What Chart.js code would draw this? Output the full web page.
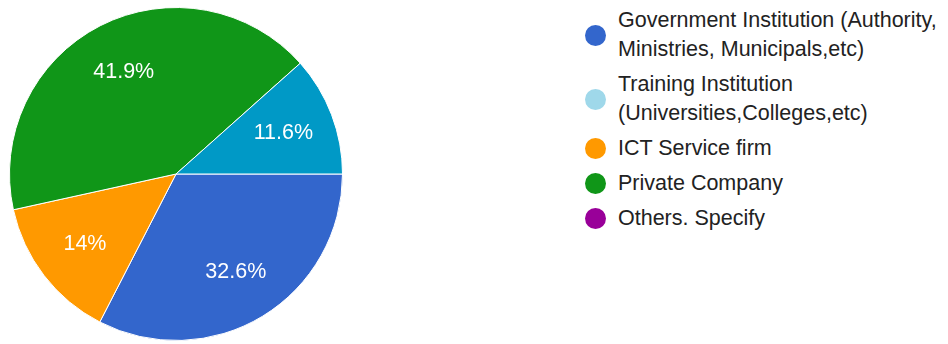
<!DOCTYPE html>
<html>
<head>
<meta charset="utf-8">
<script src="https://cdn.jsdelivr.net/npm/chart.js@4"></script>
<style>
  html, body { margin: 0; padding: 0; background: #fff; }
  #wrap { position: relative; width: 948px; height: 344px; overflow: hidden; }
  #pieBox { position: absolute; left: 0; top: 0; width: 352px; height: 344px; }
  #legend {
    position: absolute; left: 585px; top: 6px; width: 363px;
    font-family: "Liberation Sans", Arial, sans-serif; font-size: 21.5px;
    line-height: 29px; color: #222;
  }
  .item { display: flex; align-items: center; margin-bottom: 6px; }
  .dot { flex: none; width: 21px; height: 21px; border-radius: 50%; margin-right: 12px; }
  .txt { flex: 1; }
</style>
</head>
<body>
<div id="wrap">
  <div id="pieBox"><canvas id="pie"></canvas></div>
  <div id="legend"></div>
</div>
<script>
// Responses per organisation type (percent)
const categories = [
  'Government Institution (Authority, Ministries, Municipals,etc)',
  'Training Institution (Universities,Colleges,etc)',
  'ICT Service firm',
  'Private Company',
  'Others. Specify'
];
const shares = [32.6, 11.6, 14, 41.9, 0];
const sliceColors = ['#3366cc', '#0099c6', '#ff9900', '#109618', '#990099'];
const legendColors = ['#3366cc', '#9fd8ea', '#ff9900', '#109618', '#990099'];
// order the slices go round the pie, clockwise from 3 o'clock
const sliceOrder = [0, 2, 3, 1, 4];

// legend on the right
const legend = document.getElementById('legend');
categories.forEach((name, i) => {
  const row = document.createElement('div');
  row.className = 'item';
  row.innerHTML = `<span class="dot" style="background:${legendColors[i]}"></span><span class="txt">${name}</span>`;
  legend.appendChild(row);
});

// white percent text inside each slice
const sliceLabels = {
  id: 'sliceLabels',
  afterDatasetsDraw(chart) {
    const c = chart.ctx;
    const meta = chart.getDatasetMeta(0);
    const vals = chart.data.datasets[0].data;
    c.save();
    c.fillStyle = '#fff';
    c.font = '21.5px "Liberation Sans", Arial, sans-serif';
    c.textAlign = 'center';
    c.textBaseline = 'middle';
    meta.data.forEach((arc, i) => {
      if (!vals[i]) return;
      const p = arc.getProps(['x', 'y', 'startAngle', 'endAngle', 'outerRadius'], true);
      const mid = (p.startAngle + p.endAngle) / 2;
      const r = p.outerRadius * 0.69;
      c.fillText(vals[i] + '%', p.x + Math.cos(mid) * r, p.y + Math.sin(mid) * r);
    });
    c.restore();
  }
};

new Chart(document.getElementById('pie'), {
  type: 'pie',
  data: {
    labels: sliceOrder.map(i => categories[i]),
    datasets: [{
      data: sliceOrder.map(i => shares[i]),
      backgroundColor: sliceOrder.map(i => sliceColors[i]),
      borderColor: '#fff',
      borderWidth: 1
    }]
  },
  options: {
    responsive: true,
    maintainAspectRatio: false,
    animation: false,
    rotation: 90,
    events: [],
    layout: { padding: { top: 7, bottom: 3, left: 0, right: 0 } },
    plugins: {
      legend: { display: false },
      tooltip: { enabled: false }
    }
  },
  plugins: [sliceLabels]
});
</script>
</body>
</html>
